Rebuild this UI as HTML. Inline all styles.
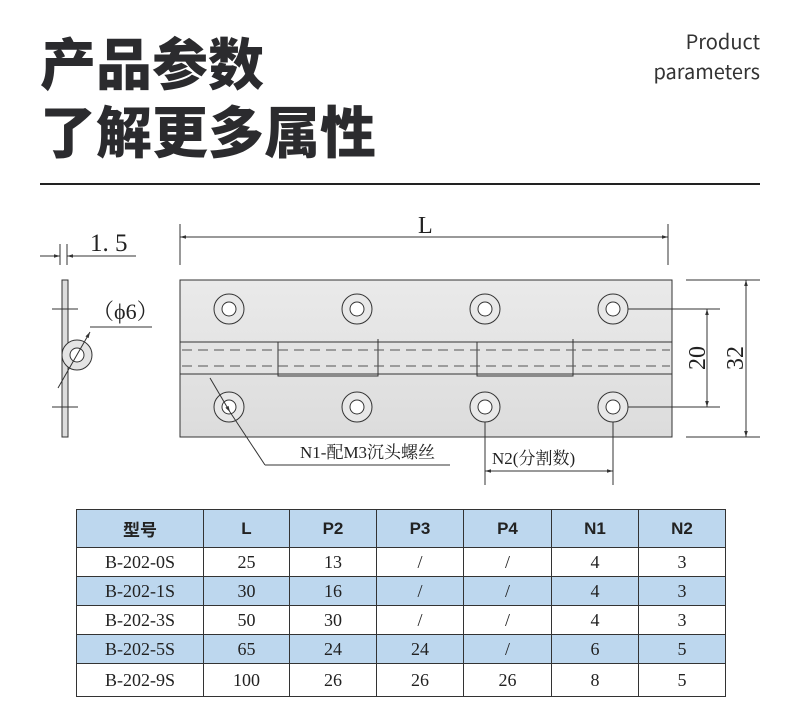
<!DOCTYPE html>
<html><head><meta charset="utf-8"><style>
html,body{margin:0;padding:0;background:#fff;}
body{width:800px;height:715px;position:relative;overflow:hidden;font-family:"Liberation Sans","Noto Sans CJK SC",sans-serif;}
.t{position:absolute;left:40px;font-family:"Noto Sans CJK SC",sans-serif;font-weight:900;font-size:56px;color:#2b2b2e;line-height:1;}
.en{position:absolute;right:40px;text-align:right;font-family:"Noto Sans CJK SC","Liberation Sans",sans-serif;font-size:20px;color:#333;line-height:30px;top:26px;}
table{position:absolute;left:76px;top:509px;width:649px;border-collapse:collapse;table-layout:fixed;font-family:"Liberation Serif","Noto Serif CJK SC",serif;font-size:18px;color:#222;}
td{border:1.5px solid #333;text-align:center;height:28px;padding:0;}
tr.h td{background:#bdd7ee;font-family:"Liberation Sans","Noto Sans CJK SC",sans-serif;font-weight:bold;font-size:17px;height:37px;}
tr.b td{background:#bdd7ee;}
</style></head><body>
<div class="t" style="top:34px">产品参数</div>
<div class="t" style="top:102px">了解更多属性</div>
<div class="en">Product<br>parameters</div>
<div style="position:absolute;left:40px;top:183px;width:720px;height:2px;background:#222"></div>
<svg width="800" height="715" style="position:absolute;left:0;top:0" xmlns="http://www.w3.org/2000/svg">
<defs>
<linearGradient id="g" x1="0" y1="0" x2="0" y2="1"><stop offset="0" stop-color="#eaeaea"/><stop offset="1" stop-color="#dcdcdc"/></linearGradient>
<marker id="a" viewBox="0 0 10 10" refX="10" refY="5" markerWidth="8" markerHeight="6" orient="auto-start-reverse"><path d="M0,2 L10,5 L0,8z" fill="#333"/></marker>
</defs>
<g stroke="#333" stroke-width="1" fill="none">
<rect x="180" y="280" width="492" height="157" fill="url(#g)"/>
<rect x="180" y="342" width="492" height="32" fill="#e4e4e4"/>
<path d="M278,342 V376 H378 V339 M477,342 V376 H573 V339"/>
<g stroke-dasharray="10,6" stroke="#555"><line x1="182" y1="350" x2="670" y2="350"/><line x1="182" y1="366" x2="670" y2="366"/></g>
<g fill="#e8e8e8">
<circle cx="229" cy="309" r="15"/><circle cx="357" cy="309" r="15"/><circle cx="485" cy="309" r="15"/><circle cx="613" cy="309" r="15"/>
<circle cx="229" cy="407" r="15"/><circle cx="357" cy="407" r="15"/><circle cx="485" cy="407" r="15"/><circle cx="613" cy="407" r="15"/>
</g>
<g fill="#fff">
<circle cx="229" cy="309" r="7"/><circle cx="357" cy="309" r="7"/><circle cx="485" cy="309" r="7"/><circle cx="613" cy="309" r="7"/>
<circle cx="229" cy="407" r="7"/><circle cx="357" cy="407" r="7"/><circle cx="485" cy="407" r="7"/><circle cx="613" cy="407" r="7"/>
</g>
<rect x="62" y="280" width="6" height="157" fill="#ddd"/>
<line x1="52" y1="309" x2="78" y2="309"/><line x1="52" y1="407" x2="78" y2="407"/>
<circle cx="77" cy="355" r="15" fill="#e4e4e4"/><circle cx="77" cy="355" r="7" fill="#fff"/>
<line x1="58" y1="388" x2="90" y2="332" marker-end="url(#a)"/>
<line x1="90" y1="327" x2="152" y2="327"/>
<line x1="60" y1="244" x2="60" y2="265"/><line x1="67" y1="244" x2="67" y2="265"/>
<line x1="40" y1="256" x2="60" y2="256" marker-end="url(#a)"/>
<line x1="136" y1="256" x2="67" y2="256" marker-end="url(#a)"/>
<line x1="180" y1="224" x2="180" y2="265"/><line x1="668" y1="224" x2="668" y2="265"/>
<line x1="180" y1="237" x2="668" y2="237" marker-start="url(#a)" marker-end="url(#a)"/>
<line x1="686" y1="280" x2="760" y2="280"/><line x1="686" y1="437" x2="760" y2="437"/>
<line x1="746" y1="280" x2="746" y2="437" marker-start="url(#a)" marker-end="url(#a)"/>
<line x1="628" y1="309" x2="720" y2="309"/><line x1="628" y1="407" x2="720" y2="407"/>
<line x1="707" y1="309" x2="707" y2="407" marker-start="url(#a)" marker-end="url(#a)"/>
<line x1="210" y1="378" x2="230" y2="412" marker-end="url(#a)"/>
<line x1="230" y1="412" x2="265" y2="465"/>
<line x1="265" y1="465" x2="450" y2="465"/>
<line x1="485" y1="422" x2="485" y2="485"/><line x1="613" y1="422" x2="613" y2="485"/>
<line x1="485" y1="471" x2="613" y2="471" marker-start="url(#a)" marker-end="url(#a)"/>
</g>
<g font-family="Liberation Serif,Noto Serif CJK SC,serif" fill="#222">
<text x="90" y="251" font-size="25">1. 5</text>
<text x="418" y="233" font-size="24">L</text>
<text x="92" y="319" font-size="22">（ϕ6）</text>
<text x="300" y="458" font-size="17">N1-配M3沉头螺丝</text>
<text x="492" y="464" font-size="17">N2(分割数)</text>
<text transform="translate(705,358) rotate(-90)" font-size="24" text-anchor="middle">20</text>
<text transform="translate(743,358) rotate(-90)" font-size="24" text-anchor="middle">32</text>
</g>
</svg>
<table>
<colgroup><col style="width:127px"><col style="width:86px"><col style="width:87px"><col style="width:87px"><col style="width:88px"><col style="width:87px"><col style="width:87px"></colgroup>
<tr class="h"><td>型号</td><td>L</td><td>P2</td><td>P3</td><td>P4</td><td>N1</td><td>N2</td></tr>
<tr><td>B-202-0S</td><td>25</td><td>13</td><td>/</td><td>/</td><td>4</td><td>3</td></tr>
<tr class="b"><td>B-202-1S</td><td>30</td><td>16</td><td>/</td><td>/</td><td>4</td><td>3</td></tr>
<tr><td>B-202-3S</td><td>50</td><td>30</td><td>/</td><td>/</td><td>4</td><td>3</td></tr>
<tr class="b"><td>B-202-5S</td><td>65</td><td>24</td><td>24</td><td>/</td><td>6</td><td>5</td></tr>
<tr><td style="height:32px">B-202-9S</td><td>100</td><td>26</td><td>26</td><td>26</td><td>8</td><td>5</td></tr>
</table>
</body></html>
